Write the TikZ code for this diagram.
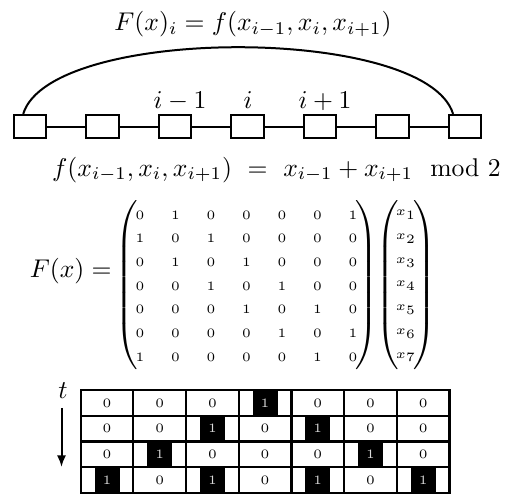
\documentclass[tikz,border=0pt]{standalone}
\usepackage{amsmath}
\usetikzlibrary{calc,arrows.meta}
\begin{document}
\begin{tikzpicture}[x=0.39pt,y=-0.39pt,
  txt/.style={inner sep=0pt},
  chainbox/.style={draw,line width=0.78pt,minimum width=12.5pt,minimum height=9pt,inner sep=0pt},
  link/.style={line width=0.78pt},
  entry/.style={inner sep=0pt,font=\tiny},
  cell/.style={draw,line width=0.85pt,minimum width=20.55pt,minimum height=10.04pt,inner sep=0pt,font=\tiny},
  onecell/.style={fill=black,minimum width=9.75pt,minimum height=10.04pt,inner sep=0pt},
  delim/.style={inner sep=0pt,outer sep=0pt}]
\useasboundingbox (0,0) rectangle (508,501);
% top formula
\node[txt,anchor=base] (top) at (253,30.7) {$F(x)_i = f(x_{i-1},x_i,x_{i+1})$};
% chain
\foreach \k in {1,...,7} \node[chainbox] (b\k) at ({30+72.5*(\k-1)},126.5) {};
\foreach \a/\b in {1/2,2/3,3/4,4/5,5/6,6/7} \draw[link] (b\a) -- (b\b);
\node[txt,anchor=base] (lm) at (180,108) {$i-1$};
\node[txt,anchor=base] (li) at (248,108) {$i$};
\node[txt,anchor=base] (lp) at (325,108) {$i+1$};
\coordinate (arcA) at ($(b1.north west)!0.3!(b1.north east)$);
\coordinate (arcB) at ($(b7.north west)!0.15!(b7.north east)$);
\draw[link] (arcA) .. controls ($(arcA)+(27,-89)$) and ($(arcB)+(-27,-89)$) .. (arcB);
% rule
\node[txt,anchor=base] (rule) at (276.5,176) {$f(x_{i-1},x_i,x_{i+1}) \ = \ x_{i-1}+x_{i+1} \mod 2$};
% matrix
\node[txt,anchor=base east] (Fx) at (112,277) {$F(x) =$};
\node[delim] (pl1) at (126.5,285) {$\delimiterfactor=1000 \delimitershortfall=0pt \nulldelimiterspace=0pt \left(\vcenter{\hrule height 31.2pt depth 31.2pt width 0pt}\right.$};
\node[delim] (pr1) at (366.5,285) {$\delimiterfactor=1000 \delimitershortfall=0pt \nulldelimiterspace=0pt \left.\vcenter{\hrule height 31.2pt depth 31.2pt width 0pt}\right)$};
\node[delim] (pl2) at (388,285) {$\delimiterfactor=1000 \delimitershortfall=0pt \nulldelimiterspace=0pt \left(\vcenter{\hrule height 31.2pt depth 31.2pt width 0pt}\right.$};
\node[delim] (pr2) at (425,285) {$\delimiterfactor=1000 \delimitershortfall=0pt \nulldelimiterspace=0pt \left.\vcenter{\hrule height 31.2pt depth 31.2pt width 0pt}\right)$};
\foreach \r in {1,...,7} {
  \foreach \c in {1,...,7} {
    \pgfmathtruncatemacro\d{abs(\r-\c)}
    \pgfmathtruncatemacro\v{(\d==1 || \d==6) ? 1 : 0}
    \node[entry] (m-\r-\c) at ({140+35.5*(\c-1)},{215+23.7*(\r-1)}) {$\v$};
  }
  \node[entry] (v-\r) at (406,{215+23.7*(\r-1)}) {$x_{\r}$};
}
% space-time grid
\foreach \r/\vals in {1/{0,0,0,1,0,0,0},2/{0,0,1,0,1,0,0},3/{0,1,0,0,0,1,0},4/{1,0,1,0,1,0,1}} {
  \foreach \v [count=\c] in \vals {
    \pgfmathsetmacro\px{107+52.7*(\c-1)}
    \pgfmathsetmacro\py{402.9+25.75*(\r-1)}
    \ifnum\v=1
      \node[onecell] (k-\r-\c) at (\px,\py) {};
      \node[cell,text=white!85!black] (g-\r-\c) at (\px,\py) {1};
    \else
      \node[cell] (g-\r-\c) at (\px,\py) {0};
    \fi
  }
}
\node (t) at (63,391) {$t$};
\coordinate (tend) at (61.5,467);
\draw[link,-{Latex[length=4.5pt,width=3.5pt]}] (t.south -| tend) -- (tend);
\end{tikzpicture}
\end{document}
